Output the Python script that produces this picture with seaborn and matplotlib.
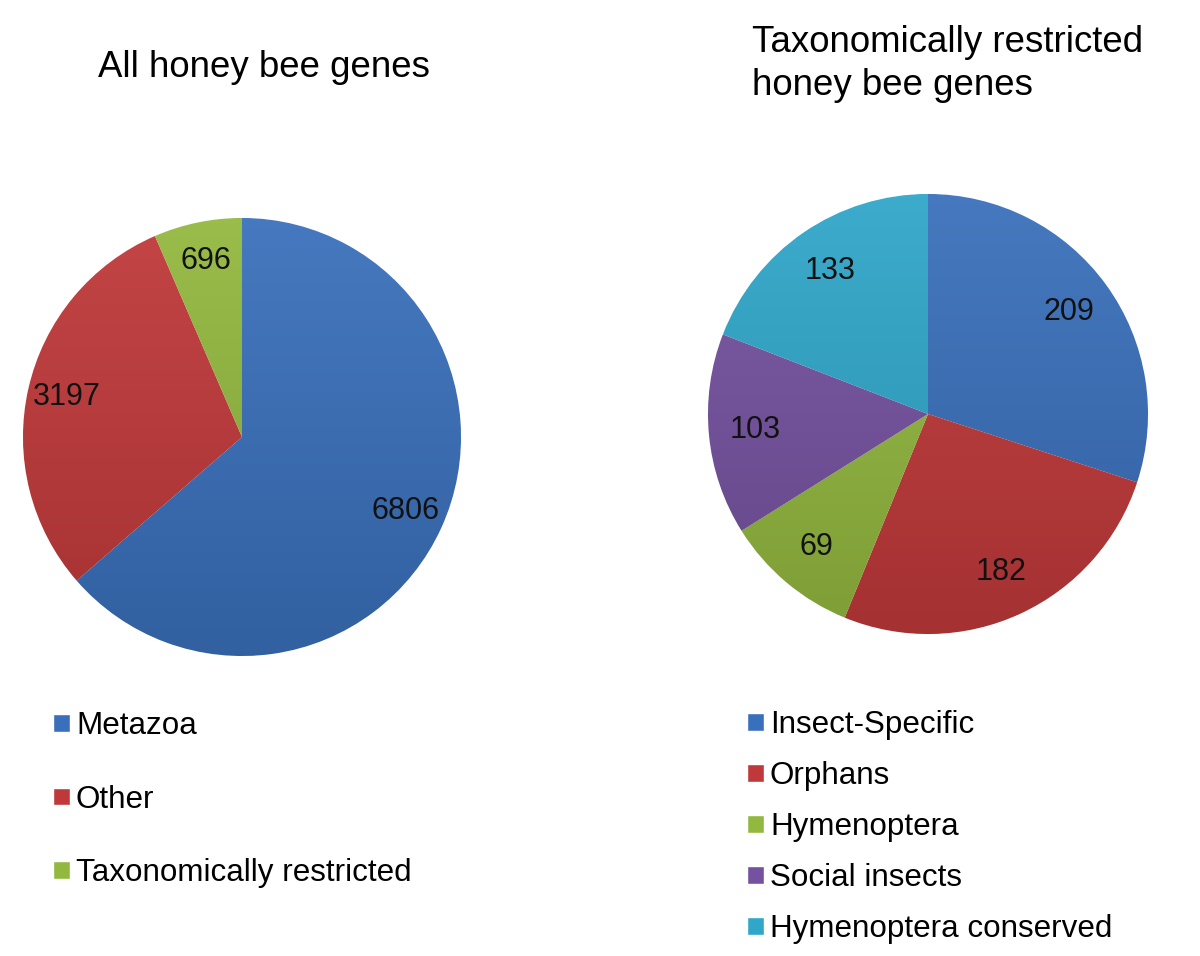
import numpy as np
import matplotlib
matplotlib.use("Agg")
import matplotlib.pyplot as plt
import seaborn as sns

# Left pie: all honey bee genes
all_labels = ["Metazoa", "Other", "Taxonomically restricted"]
all_counts = [6806, 3197, 696]

# Right pie: taxonomically restricted genes
tr_labels = ["Insect-Specific", "Orphans", "Hymenoptera", "Social insects",
             "Hymenoptera conserved"]
tr_counts = [209, 182, 69, 103, 133]

BLUE = "#3a70bb"
RED = "#c0393a"
GREEN = "#93b83f"
PURPLE = "#7552a0"
CYAN = "#30a6c9"

all_colors = [BLUE, RED, GREEN]
tr_colors = [BLUE, RED, GREEN, PURPLE, CYAN]

sns.set_theme(style="white")
plt.rcParams["font.family"] = ["Liberation Sans", "DejaVu Sans"]
plt.rcParams["text.color"] = "black"

W, H = 1200, 956
fig = plt.figure(figsize=(W / 100, H / 100), dpi=100)


def shade(color, f):
    rgb = np.array(matplotlib.colors.to_rgb(color))
    if f >= 0:
        return rgb + (1 - rgb) * f
    return rgb * (1 + f)


def draw_pie(cx, cy, r, counts, colors, dist):
    ax = fig.add_axes([(cx - r) / W, (H - cy - r) / H, 2 * r / W, 2 * r / H])
    wedges, _, autotexts = ax.pie(
        counts, colors=colors, startangle=90, counterclock=False,
        autopct=lambda p: f"{p * sum(counts) / 100:.0f}", pctdistance=dist,
        wedgeprops=dict(linewidth=0.8, edgecolor="white"),
        textprops=dict(fontsize=22, color="#111111"),
    )
    # vertical gradient in each wedge, lighter on top
    yy = np.linspace(1, 0, 200)[:, None]
    for w, c in zip(wedges, colors):
        top = shade(c, 0.06)
        bot = shade(c, -0.14)
        grad = top[None, None, :] * yy[..., None] + bot[None, None, :] * (1 - yy[..., None])
        grad = np.repeat(grad, 2, axis=1)
        im = ax.imshow(grad, extent=[-1, 1, -1, 1], zorder=w.get_zorder(),
                       aspect="auto")
        im.set_clip_path(w)
        w.set_clip_on(False)
    for t in autotexts:
        t.set_zorder(5)
    ax.set_xlim(-1, 1)
    ax.set_ylim(-1, 1)
    ax.set_aspect("equal")
    ax.axis("off")
    return wedges


left_wedges = draw_pie(242, 437, 219, all_counts, all_colors, 0.82)
right_wedges = draw_pie(928, 414, 220, tr_counts, tr_colors, 0.79)

fig.text(98 / W, 1 - 77 / H, "All honey bee genes", fontsize=26.4,
         va="baseline", ha="left")
fig.text(752 / W, 1 - 52 / H, "Taxonomically restricted", fontsize=26.4,
         va="baseline", ha="left")
fig.text(752 / W, 1 - 95 / H, "honey bee genes", fontsize=26.4,
         va="baseline", ha="left")


def add_legend(wedges, labels, x, y, spacing):
    handles = [matplotlib.patches.Patch(facecolor=w.get_facecolor(), label=l)
               for w, l in zip(wedges, labels)]
    fig.legend(handles=handles, loc="upper left",
               bbox_to_anchor=(x / W, 1 - y / H), frameon=False,
               fontsize=22.6, handlelength=0.53, handleheight=0.5,
               handletextpad=0.2, labelspacing=spacing, borderaxespad=0,
               borderpad=0)


add_legend(left_wedges, all_labels, 53, 711, 1.39)
add_legend(right_wedges, tr_labels, 747, 710, 0.67)

fig.savefig("out.png", dpi=100)
